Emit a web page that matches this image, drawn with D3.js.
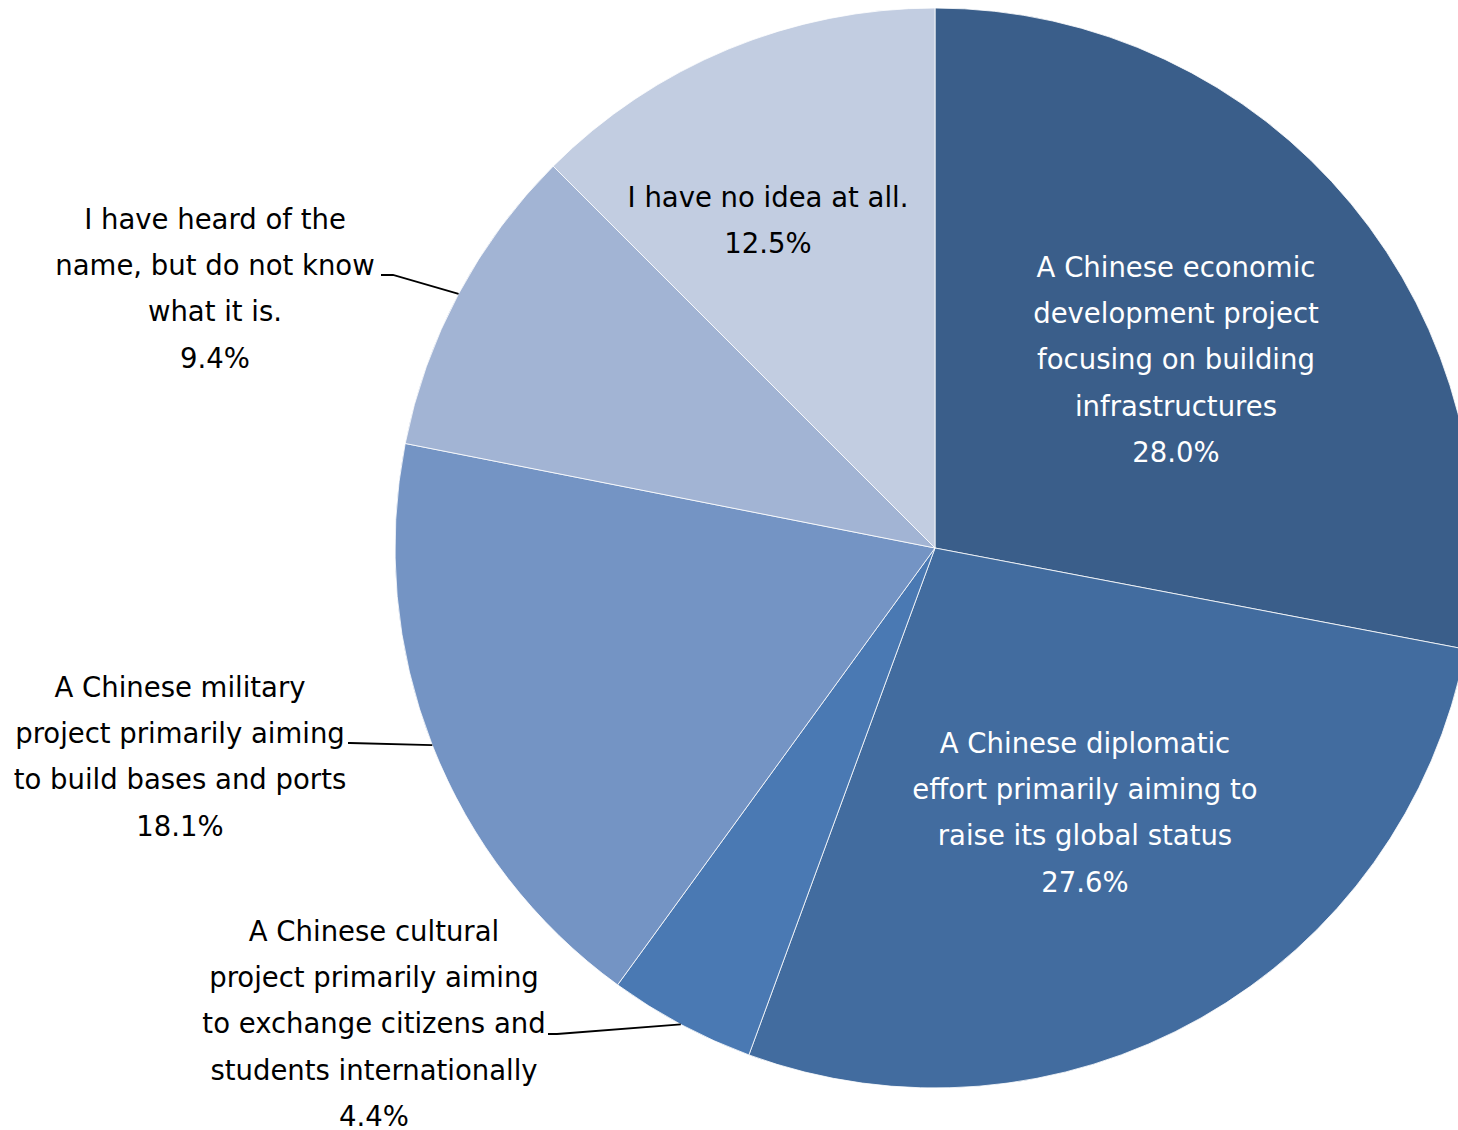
<!DOCTYPE html>
<html><head><meta charset="utf-8">
<script src="https://cdn.jsdelivr.net/npm/d3@7"></script>
<style>body{margin:0;background:#fff;}svg{display:block;}</style>
</head><body>
<script>
const categories = [
  "A Chinese economic development project focusing on building infrastructures",
  "A Chinese diplomatic effort primarily aiming to raise its global status",
  "A Chinese cultural project primarily aiming to exchange citizens and students internationally",
  "A Chinese military project primarily aiming to build bases and ports",
  "I have heard of the name, but do not know what it is.",
  "I have no idea at all."
];
const values = [28.0, 27.6, 4.4, 18.1, 9.4, 12.5];
const labelLines = [
  ["A Chinese economic","development project","focusing on building","infrastructures"],
  ["A Chinese diplomatic","effort primarily aiming to","raise its global status"],
  ["A Chinese cultural","project primarily aiming","to exchange citizens and","students internationally"],
  ["A Chinese military","project primarily aiming","to build bases and ports"],
  ["I have heard of the","name, but do not know","what it is."],
  ["I have no idea at all."]
];
const colors = ["#3a5e8a","#426c9f","#4a79b3","#7494c4","#a2b4d4","#c2cde1"];

// layout (positions only)
const W = 1458, H = 1130, cx = 935, cy = 548, R = 540;
const lineH = 46.4, fontSize = 27.5;
const labelPos = [
  {x:1176, y:267, fill:"#fff"},
  {x:1085, y:743, fill:"#fff"},
  {x:374, y:931, fill:"#000", leader:{x0:548, y0:1034, x1:557}},
  {x:180, y:687, fill:"#000", leader:{x0:348, y0:743, x1:350}},
  {x:215, y:219, fill:"#000", leader:{x0:381, y0:275, x1:393}},
  {x:768, y:197, fill:"#000"}
];

const svg = d3.select("body").append("svg").attr("width", W).attr("height", H);
const g = svg.append("g").attr("transform", `translate(${cx},${cy})`);
const pie = d3.pie().sort(null).value(d => d)(values);
const arc = d3.arc().innerRadius(0).outerRadius(R);

g.selectAll("path.slice").data(pie).join("path")
  .attr("class","slice")
  .attr("d", arc)
  .attr("fill", (d,i) => colors[i])
  .attr("stroke", "#fff").attr("stroke-width", 0.8);

// leader lines
pie.forEach((d,i) => {
  const lp = labelPos[i];
  if (!lp.leader) return;
  const a = (d.startAngle + d.endAngle)/2;
  const px = cx + R*Math.sin(a), py = cy - R*Math.cos(a);
  svg.append("polyline")
    .attr("points", `${lp.leader.x0},${lp.leader.y0} ${lp.leader.x1},${lp.leader.y0} ${px},${py}`)
    .attr("fill","none").attr("stroke","#000").attr("stroke-width",1.8);
});

// labels
pie.forEach((d,i) => {
  const lp = labelPos[i];
  const lines = labelLines[i].concat([d3.format(".1f")(values[i]) + "%"]);
  const t = svg.append("text")
    .attr("text-anchor","middle")
    .attr("font-family","DejaVu Sans, Verdana, sans-serif")
    .attr("font-size", fontSize)
    .attr("fill", lp.fill);
  lines.forEach((ln, j) => {
    t.append("tspan").attr("x", lp.x).attr("y", lp.y + j*lineH).attr("dy","0.35em").text(ln);
  });
});
</script>
</body></html>
